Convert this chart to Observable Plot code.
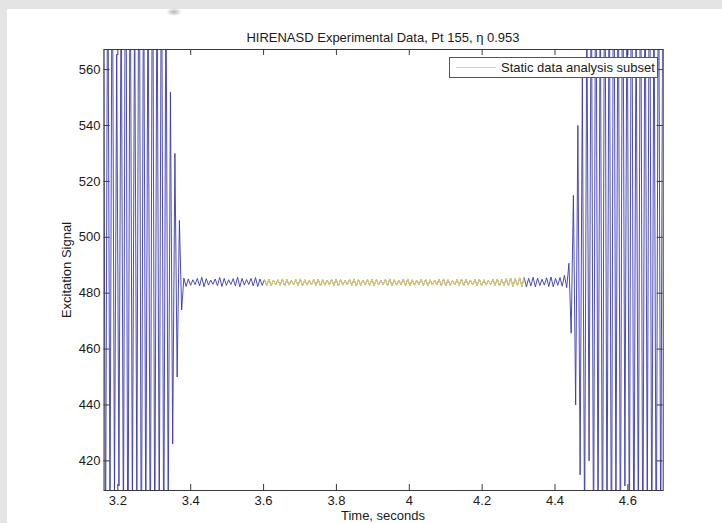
<!DOCTYPE html>
<html>
<head>
<meta charset="utf-8">
<script src="https://cdn.jsdelivr.net/npm/d3@7"></script>
<script src="https://cdn.jsdelivr.net/npm/@observablehq/plot@0.6"></script>
<style>
  html, body { margin: 0; padding: 0; }
  body { width: 722px; height: 523px; overflow: hidden; position: relative; background: #e4e4e4;
         font-family: "Liberation Sans", Arial, sans-serif; color: #1a1a1a; }
  #panel { position: absolute; left: 7px; top: 9px; right: 0; bottom: 0; background: #fff; }
  #blob { position: absolute; left: 166px; top: 8px; width: 16px; height: 8px;
          background: radial-gradient(ellipse at center, #b5b5b5 0%, rgba(228,228,228,0) 70%); }
  #chart { position: absolute; left: 0; top: 0; }
  .lbl { position: absolute; font-size: 13px; line-height: 13px; white-space: nowrap; }
  #legend { position: absolute; left: 449px; top: 57px; width: 207px; height: 19px;
            border: 1px solid #555; background: #fff; }
  #legend .sw { position: absolute; left: 6px; top: 9px; width: 40px; height: 1px; background: #e6da55; }
  #legend .tx { position: absolute; left: 51px; top: 3px; font-size: 13px; line-height: 13px; white-space: nowrap; }
</style>
</head>
<body>
<div id="panel"></div>
<div id="blob"></div>
<div id="chart"></div>
<div class="lbl" id="title" style="left:103.5px;width:559px;top:31px;text-align:center;">HIRENASD Experimental Data, Pt 155, η 0.953</div>
<div class="lbl" id="xlabel" style="left:103.5px;width:559px;top:509px;text-align:center;">Time, seconds</div>
<div class="lbl" id="ylabel" style="left:66px;top:270px;transform:translate(-50%,-50%) rotate(-90deg);">Excitation Signal</div>
<div id="legend"><div class="sw"></div><div class="tx">Static data analysis subset</div></div>
<script>
// ---- data ----
const t0 = 3.16002;        // time of first sample (s)
const dt = 0.0061452;      // spacing between successive peaks/troughs (s)

const leftBurst = [610, 380, 620, 395, 625, 404, 565.5, 411, 600, 385, 655, 360, 620, 398, 590, 406,
                   645, 365, 615, 390, 600, 372, 635, 380, 605, 392, 625, 378, 598, 400];
const decayIn = [552, 426, 530, 450, 506, 474];
const steadyA = [485.4, 482.4, 485.1, 482.8, 484.8, 483.1, 485.3, 482.6, 485.7, 482.3, 485.2, 482.9,
                 484.7, 483.2, 485.1, 482.7, 485.6, 482.4, 485.3, 482.8, 484.8, 483.1, 485.2, 482.6,
                 485.7, 482.3, 485.3, 482.9, 484.9, 483.1, 485.3, 482.6, 485.6, 482.4, 485.1, 482.8];
const steadyB = [484.9, 482.8, 485.0, 482.7, 484.7, 483.0, 484.8, 482.8, 485.1, 482.6, 484.9, 482.9,
                 484.6, 483.0, 484.9, 482.7, 485.1, 482.6, 484.8, 482.9, 484.6, 483.0, 484.9, 482.8,
                 485.0, 482.6, 484.8, 482.9, 484.7, 483.0, 485.0, 482.7, 485.1, 482.6, 484.8, 482.9,
                 484.6, 483.1, 484.9, 482.8, 485.1, 482.6, 484.9, 482.8, 484.7, 483.0, 484.8, 482.8,
                 485.0, 482.7, 484.9, 482.9, 484.6, 483.0, 484.9, 482.7, 485.1, 482.6, 484.8, 482.9,
                 484.7, 483.0, 485.0, 482.7, 485.1, 482.6, 484.8, 482.9, 484.6, 483.1, 484.9, 482.8,
                 485.0, 482.6, 484.8, 482.9, 484.7, 483.0, 485.0, 482.7, 485.1, 482.6, 484.8, 482.8,
                 484.6, 483.0, 484.9, 482.8, 485.1, 482.6, 484.9, 482.9, 484.7, 483.0, 484.9, 482.7,
                 485.0, 482.6, 484.8, 482.9, 484.6, 483.1, 484.9, 482.8, 485.1, 482.6, 484.9, 482.8,
                 485.2, 482.6, 485.4, 482.4, 485.2, 482.7, 485.5, 482.4, 485.6, 482.3];
const steadyC = [485.3, 482.6, 485.7, 482.3, 485.4, 482.7, 485.0, 482.9, 485.5, 482.4,
                 485.8, 482.3, 485.3, 482.8, 485.6, 482.5, 486.4, 482.0];
const growth = [490.7, 465.7, 515, 440, 540, 415, 557];
const rightBurst = [392, 585, 420, 610, 378, 630, 395, 600, 370, 640, 385, 615, 365, 650, 398, 620,
                    375, 635, 411, 605, 382, 645, 368, 590, 390, 630, 372, 610, 400, 640, 380, 600,
                    370, 625, 388, 615];

const subsetStart = 3.6, subsetEnd = 4.317;   // static data analysis subset (s)

const xDomain = [3.162, 4.697];
const yDomain = [409.4, 567.2];
const xTicks = [3.2, 3.4, 3.6, 3.8, 4, 4.2, 4.4, 4.6];
const xTickLabels = ["3.2", "3.4", "3.6", "3.8", "4", "4.2", "4.4", "4.6"];
const yTicks = [420, 440, 460, 480, 500, 520, 540, 560];
const yTickLabels = ["420", "440", "460", "480", "500", "520", "540", "560"];

// ---- build ----
const values = [...leftBurst, ...decayIn, ...steadyA, ...steadyB, ...steadyC, ...growth, ...rightBurst];
const signal = values.map((v, i) => ({t: t0 + i * dt, v}));
const subset = signal.filter(d => d.t >= subsetStart && d.t <= subsetEnd);

const W = 722, H = 523;
const mL = 103.5, mR = 59.3, mT = 49, mB = 33;
const innerW = W - mL - mR, innerH = H - mT - mB;
const axisColor = "#3a3a3a";

const chart = Plot.plot({
  width: W, height: H,
  marginLeft: mL, marginRight: mR, marginTop: mT, marginBottom: mB,
  x: {domain: xDomain},
  y: {domain: yDomain},
  style: {background: "transparent", fontSize: "13px", fontFamily: "'Liberation Sans', Arial, sans-serif", color: "#1a1a1a"},
  marks: [
    Plot.line(signal, {x: "t", y: "v", stroke: "#3838b0", strokeWidth: 0.9, clip: true}),
    Plot.line(subset, {x: "t", y: "v", stroke: "#e6da55", strokeWidth: 1, clip: true}),
    Plot.frame({stroke: axisColor}),
    Plot.tickX(xTicks, {x: d => d, stroke: axisColor, insetTop: innerH - 6}),
    Plot.tickX(xTicks, {x: d => d, stroke: axisColor, insetBottom: innerH - 6}),
    Plot.tickY(yTicks, {y: d => d, stroke: axisColor, insetRight: innerW - 6}),
    Plot.tickY(yTicks, {y: d => d, stroke: axisColor, insetLeft: innerW - 6}),
    Plot.axisX(xTicks, {tickSize: 0, tickPadding: 5.5, label: null,
      tickFormat: d => xTickLabels[xTicks.indexOf(d)]}),
    Plot.axisY(yTicks, {tickSize: 0, tickPadding: 3.5, label: null,
      tickFormat: d => yTickLabels[yTicks.indexOf(d)]})
  ]
});
document.getElementById("chart").appendChild(chart);
</script>
</body>
</html>
